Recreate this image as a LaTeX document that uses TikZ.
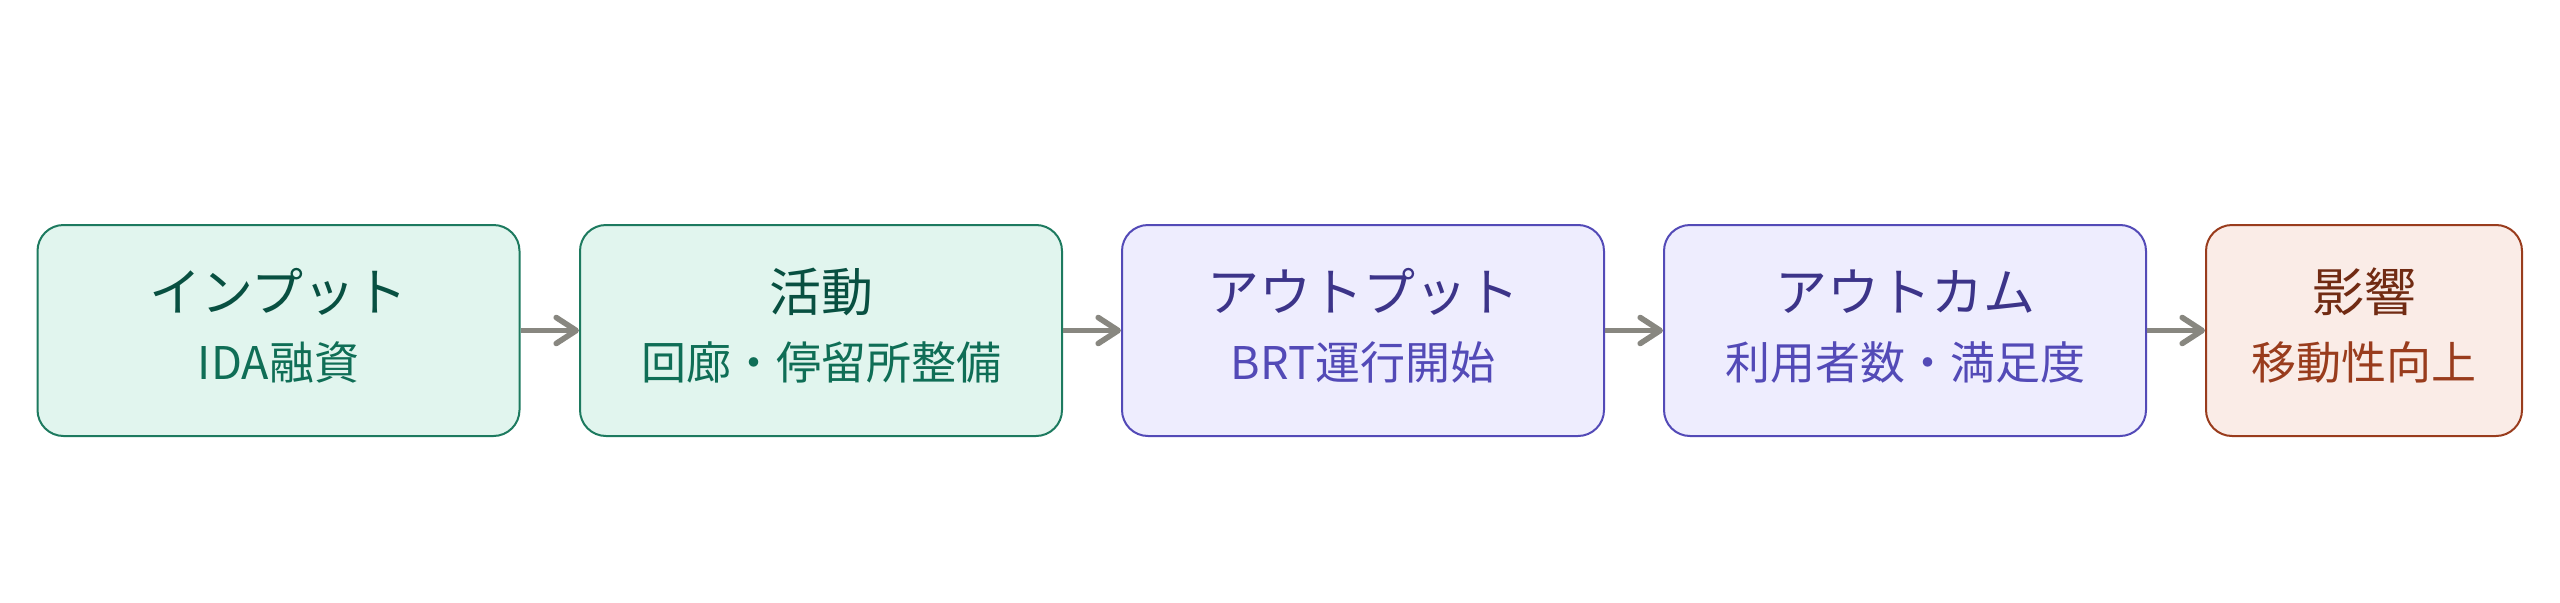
\documentclass[tikz,border=0pt]{standalone}
\usepackage{fontspec}
\setmainfont{Noto Sans CJK JP}
\usepackage{xcolor}
\usepackage{tikz}
\usetikzlibrary{calc,arrows.meta}
\definecolor{tealbg}{HTML}{E1F5EE}
\definecolor{tealline}{HTML}{1D7A5F}
\definecolor{tealttl}{HTML}{085041}
\definecolor{tealsub}{HTML}{0F6E56}
\definecolor{purpbg}{HTML}{EEEDFE}
\definecolor{purpline}{HTML}{534AB7}
\definecolor{purpttl}{HTML}{3C3489}
\definecolor{purpsub}{HTML}{534AB7}
\definecolor{coralbg}{HTML}{FAECE7}
\definecolor{coralline}{HTML}{993C1D}
\definecolor{coralttl}{HTML}{712B13}
\definecolor{coralsub}{HTML}{993C1D}
\definecolor{flowgray}{HTML}{888780}
\tikzset{
  box/.style={draw, rounded corners=13pt, line width=1pt, minimum width=241pt, minimum height=105.5pt, inner sep=0pt},
  tealbox/.style={box, fill=tealbg, draw=tealline},
  purpbox/.style={box, fill=purpbg, draw=purpline},
  coralbox/.style={box, fill=coralbg, draw=coralline, minimum width=158pt},
  ttl/.style={font=\fontsize{26}{30}\selectfont, inner sep=0pt},
  sub/.style={font=\fontsize{22.5}{27}\selectfont, inner sep=0pt},
  flow/.style={draw=flowgray, line width=2.8pt, -{Straight Barb[length=10pt,width=13pt,round]}},
}

\begin{document}
\begin{tikzpicture}[x=1pt,y=1pt]
  \useasboundingbox (0,0) rectangle (1280,301);
  \def\ty{19.25}
  \def\sy{-15.75}

  % boxes
  \node[tealbox]  (input)   at (139.25,135.75) {};
  \node[tealbox]  (work)    at (410.5,135.75) {};
  \node[purpbox]  (output)  at (681.5,135.75) {};
  \node[purpbox]  (outcome) at (952.5,135.75) {};
  \node[coralbox] (impact)  at (1182,135.75) {};

  % titles and details
  \node[ttl, text=tealttl]  (inputT)   at ($(input.center)+(0,\ty)$)   {インプット};
  \node[sub, text=tealsub]  (inputS)   at ($(input.center)+(0,\sy)$)   {IDA融資};
  \node[ttl, text=tealttl]  (workT)    at ($(work.center)+(0,\ty)$)    {活動};
  \node[sub, text=tealsub]  (workS)    at ($(work.center)+(0,\sy)$)    {回廊・停留所整備};
  \node[ttl, text=purpttl]  (outputT)  at ($(output.center)+(0,\ty)$)  {アウトプット};
  \node[sub, text=purpsub]  (outputS)  at ($(output.center)+(0,\sy)$)  {BRT運行開始};
  \node[ttl, text=purpttl]  (outcomeT) at ($(outcome.center)+(0,\ty)$) {アウトカム};
  \node[sub, text=purpsub]  (outcomeS) at ($(outcome.center)+(0,\sy)$) {利用者数・満足度};
  \node[ttl, text=coralttl] (impactT)  at ($(impact.center)+(0,\ty)$)  {影響};
  \node[sub, text=coralsub] (impactS)  at ($(impact.center)+(0,\sy)$)  {移動性向上};

  % arrows
  \draw[flow] (input.east) -- (work.west);
  \draw[flow] (work.east) -- (output.west);
  \draw[flow] (output.east) -- (outcome.west);
  \draw[flow] (outcome.east) -- (impact.west);
\end{tikzpicture}
\end{document}
